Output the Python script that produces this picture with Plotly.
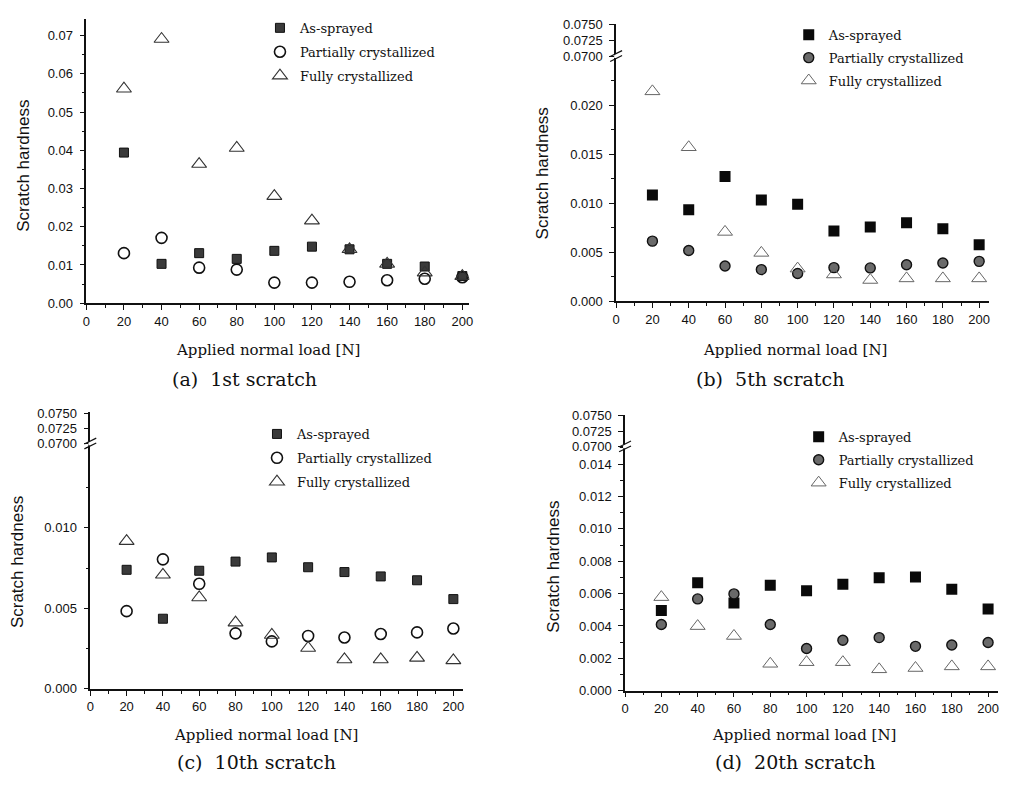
import plotly.graph_objects as go

W, H = 1011, 785

loads = [20, 40, 60, 80, 100, 120, 140, 160, 180, 200]
series_names = ["As-sprayed", "Partially crystallized", "Fully crystallized"]

# (a) 1st scratch
a_as = [0.0394, 0.0103, 0.0131, 0.0116, 0.0137, 0.0148, 0.0141, 0.0103, 0.0096, 0.0071]
a_pc = [0.0131, 0.0171, 0.0093, 0.0088, 0.0054, 0.0054, 0.0056, 0.0060, 0.0064, 0.0068]
a_fc = [0.0561, 0.0691, 0.0364, 0.0406, 0.0280, 0.0216, 0.0141, 0.0103, 0.0080, 0.0071]
# (b) 5th scratch
b_as = [0.01083, 0.00933, 0.01273, 0.01033, 0.0099, 0.00717, 0.00757, 0.0080, 0.0074, 0.00577]
b_pc = [0.00613, 0.00517, 0.0036, 0.00323, 0.00283, 0.00343, 0.0034, 0.00373, 0.0039, 0.00407]
b_fc = [0.0214, 0.0157, 0.00707, 0.00493, 0.00333, 0.00273, 0.00217, 0.00233, 0.00233, 0.00233]
# (c) 10th scratch
c_as = [0.00739, 0.00435, 0.00733, 0.0079, 0.00816, 0.00755, 0.00725, 0.00698, 0.00674, 0.00557]
c_pc = [0.00482, 0.00804, 0.00652, 0.00344, 0.00294, 0.00328, 0.00318, 0.0034, 0.0035, 0.00374]
c_fc = [0.00917, 0.00708, 0.00567, 0.00411, 0.00334, 0.00253, 0.00182, 0.00182, 0.00192, 0.00176]
# (d) 20th scratch
d_as = [0.00496, 0.00667, 0.00541, 0.00652, 0.00618, 0.00657, 0.00697, 0.00703, 0.00626, 0.00505]
d_pc = [0.00409, 0.00567, 0.00598, 0.00409, 0.00261, 0.00312, 0.00328, 0.00274, 0.00282, 0.00298]
d_fc = [0.00578, 0.00399, 0.00338, 0.00166, 0.00176, 0.00176, 0.00132, 0.0014, 0.0015, 0.0015]

subtitles = ["(a)  1st scratch", "(b)  5th scratch", "(c)  10th scratch", "(d)  20th scratch"]
xtitle = "Applied normal load [N]"
ytitle = "Scratch hardness"

# tick values
a_yticks = [0.00, 0.01, 0.02, 0.03, 0.04, 0.05, 0.06, 0.07]
b_yticks = [0.000, 0.005, 0.010, 0.015, 0.020]
c_yticks = [0.000, 0.005, 0.010]
d_yticks = [0.000, 0.002, 0.004, 0.006, 0.008, 0.010, 0.012, 0.014]
upper_ticks = [0.0700, 0.0725, 0.0750]


def px(p):
    return p / W


def py(p):
    return 1 - p / H


SANS = "Liberation Sans, Arial, sans-serif"
SERIF = "DejaVu Serif, serif"

fig = go.Figure()

tex_sq = dict(symbol="square", size=9, color="#3a3a3a", line=dict(color="#111", width=1))
solid_sq = dict(symbol="square", size=11, color="#0a0a0a", line=dict(color="#000", width=0))
open_ci = dict(symbol="circle-open", size=11, color="#111", line=dict(width=1.6))
gray_ci = dict(symbol="circle", size=10, color="#6a6a6a", line=dict(color="#111", width=1.4))
open_tri = dict(symbol="triangle-up-open", size=13, color="#333", line=dict(width=1.1))
light_tri = dict(symbol="triangle-up-open", size=13, color="#666", line=dict(width=1.0))

panels = [
    ("x", "y", None, "legend", [a_as, a_pc, a_fc], [tex_sq, open_ci, open_tri]),
    ("x2", "y2", "y3", "legend2", [b_as, b_pc, b_fc], [solid_sq, gray_ci, light_tri]),
    ("x3", "y4", "y5", "legend3", [c_as, c_pc, c_fc], [tex_sq, open_ci, open_tri]),
    ("x4", "y6", "y7", "legend4", [d_as, d_pc, d_fc], [solid_sq, gray_ci, light_tri]),
]

for xa, ya, yup, lg, vals, mks in panels:
    for i, (name, v, mk) in enumerate(zip(series_names, vals, mks)):
        fig.add_trace(go.Scatter(
            x=loads, y=v, mode="markers", name=name, marker=mk,
            xaxis=xa, yaxis=ya, legend=lg, legendgroup=lg + str(i),
            showlegend=True, hoverinfo="skip"))
        if yup is not None:
            # same data on the upper (broken) segment; all values fall below its range
            fig.add_trace(go.Scatter(
                x=loads, y=v, mode="markers", name=name, marker=mk,
                xaxis=xa, yaxis=yup, showlegend=False, hoverinfo="skip"))

axcommon = dict(showline=True, linecolor="#111", linewidth=1.6, ticks="outside",
                ticklen=5, tickwidth=1.2, tickcolor="#111", showgrid=False,
                zeroline=False, tickfont=dict(family=SANS, size=13, color="#111"),
                fixedrange=True)


def xax(x0, x1, anchor, rng_max):
    return dict(axcommon, domain=[px(x0), px(x1)], anchor=anchor, range=[0, rng_max],
                tickmode="linear", tick0=0, dtick=20,
                minor=dict(ticks="outside", ticklen=3, dtick=10, tickcolor="#111", tickwidth=1))


def yax(y_top, y_bot, anchor, rng, tickvals, fmt, minor_dt=None):
    d = dict(axcommon, domain=[py(y_bot), py(y_top)], anchor=anchor, range=rng,
             tickmode="array", tickvals=tickvals, tickformat=fmt, ticklabelstandoff=4)
    if minor_dt:
        d["minor"] = dict(ticks="outside", ticklen=3, tick0=0, dtick=minor_dt,
                          tickcolor="#111", tickwidth=1)
    return d


layout = dict(
    width=W, height=H, autosize=False, margin=dict(l=0, r=0, t=0, b=0),
    paper_bgcolor="white", plot_bgcolor="white", showlegend=True,
    xaxis=xax(83, 469, "y", 203.7),
    yaxis=yax(12, 302, "x", [0, 0.0744], a_yticks, ".2f", 0.005),
    xaxis2=xax(617, 993, "y2", 205.5),
    yaxis2=yax(50, 300, "x2", [0, 0.025], b_yticks, ".3f", 0.0025),
    yaxis3=yax(17, 50, "x2", [0.07, 0.07516], upper_ticks, ".4f"),
    xaxis3=xax(87, 463, "y4", 205.5),
    yaxis4=yax(445, 695, "x3", [0, 0.01524], c_yticks, ".3f", 0.0025),
    yaxis5=yax(413, 445, "x3", [0.07, 0.07516], upper_ticks, ".4f"),
    xaxis4=xax(626, 1002, "y6", 205.5),
    yaxis6=yax(448, 697, "x4", [0, 0.01509], d_yticks, ".3f", 0.001),
    yaxis7=yax(416, 448, "x4", [0.07, 0.0751], upper_ticks, ".4f"),
)

leg_font = dict(family=SERIF, size=13, color="#111")


def legend_at(xl, yt, gap):
    return dict(x=px(xl), y=py(yt), xanchor="left", yanchor="top", xref="paper", yref="paper",
                bgcolor="rgba(0,0,0,0)", font=leg_font, tracegroupgap=gap,
                itemclick=False, itemdoubleclick=False, traceorder="grouped")


layout["legend"] = legend_at(258, 6, 4)
layout["legend2"] = legend_at(791, 13, 3)
layout["legend3"] = legend_at(255, 420, 4)
layout["legend4"] = legend_at(801, 423, 3)

fig.update_layout(**layout)

ann = []
xt = [(266, 350), (797, 350), (264, 742), (806, 742)]
st = [(242, 379), (772, 379), (255, 770), (797, 770)]
yt = [(20, 162), (543, 170), (13, 566), (553, 571)]
for (x1, y1), (x2, y2), (x3, y3), s in zip(xt, st, yt, subtitles):
    ann.append(dict(x=px(x1), y=py(y1), xref="paper", yref="paper", text=xtitle, showarrow=False,
                    font=dict(family=SERIF, size=15, color="#111"), xanchor="center", yanchor="middle"))
    ann.append(dict(x=px(x2), y=py(y2), xref="paper", yref="paper", text=s, showarrow=False,
                    font=dict(family=SERIF, size=19, color="#111"), xanchor="center", yanchor="middle"))
    ann.append(dict(x=px(x3), y=py(y3), xref="paper", yref="paper", text=ytitle, showarrow=False,
                    textangle=-90, font=dict(family=SANS, size=17, color="#111"),
                    xanchor="center", yanchor="middle"))
fig.update_layout(annotations=ann)

shapes = []
for bx, by in [(617, 50), (87, 445), (626, 448)]:
    shapes.append(dict(type="rect", xref="paper", yref="paper", x0=px(bx - 2), x1=px(bx + 2),
                       y0=py(by + 2), y1=py(by - 2), fillcolor="white", line=dict(width=0)))
    for off in (-2.5, 2.5):
        shapes.append(dict(type="line", xref="paper", yref="paper",
                           x0=px(bx - 6), y0=py(by + 3 + off), x1=px(bx + 6), y1=py(by - 3 + off),
                           line=dict(color="#111", width=1.2)))
fig.update_layout(shapes=shapes)

fig.write_html("out.html")
